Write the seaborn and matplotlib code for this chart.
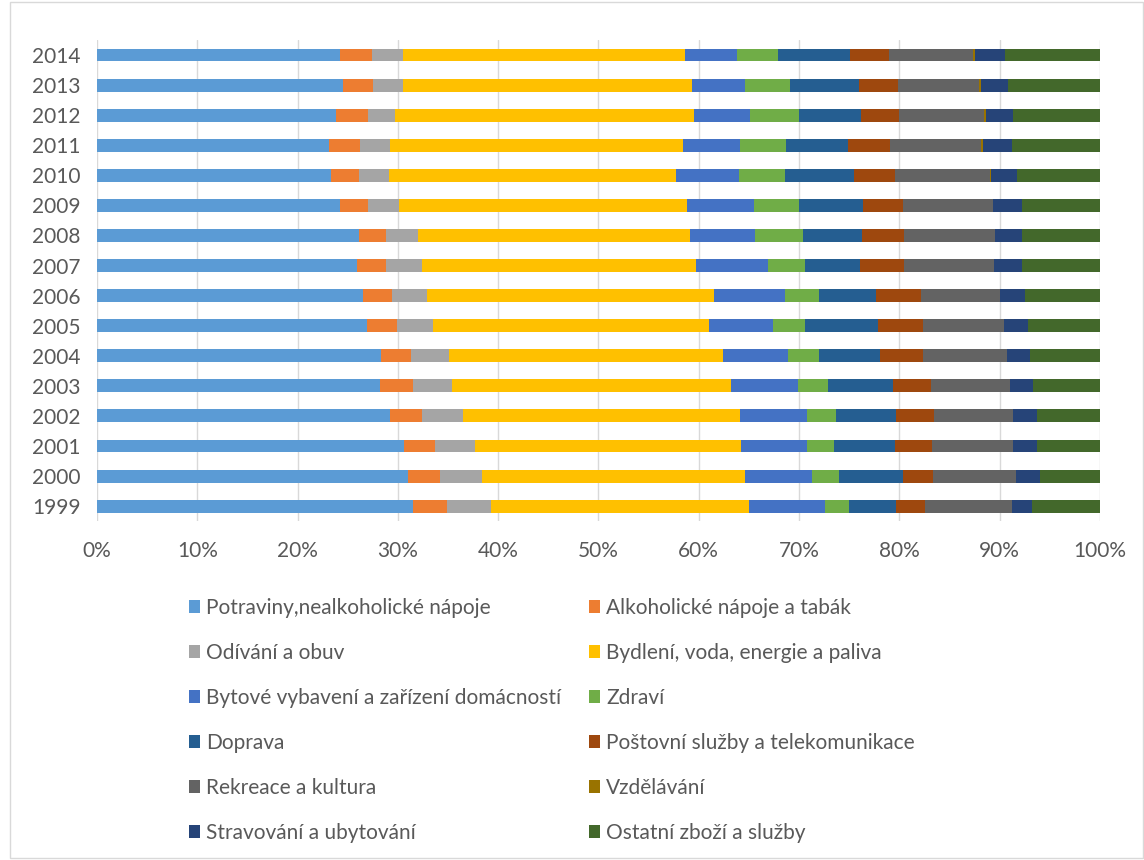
# -*- coding: utf-8 -*-
"""
Struktura výdajů domácností 1999-2014 (100% skládaný pruhový graf)
"""

import numpy as np
import pandas as pd
import matplotlib
matplotlib.use("Agg")
import matplotlib.pyplot as plt
import seaborn as sns
from matplotlib.patches import Rectangle

# -------------------------
# Data (podíly v %)
# -------------------------
years = ['2014', '2013', '2012', '2011', '2010', '2009', '2008', '2007',
         '2006', '2005', '2004', '2003', '2002', '2001', '2000', '1999']

categories = [
    'Potraviny,nealkoholické nápoje',
    'Alkoholické nápoje a tabák',
    'Odívání a obuv',
    'Bydlení, voda, energie a paliva',
    'Bytové vybavení a zařízení domácností',
    'Zdraví',
    'Doprava',
    'Poštovní služby a telekomunikace',
    'Rekreace a kultura',
    'Vzdělávání',
    'Stravování a ubytování',
    'Ostatní zboží a služby',
]

potraviny = [24.2, 24.5, 23.8, 23.1, 23.3, 24.2, 26.1, 25.9, 26.5, 26.9, 28.3, 28.2, 29.2, 30.6, 31.0, 31.5]
alkohol = [3.2, 3.0, 3.2, 3.1, 2.8, 2.8, 2.7, 2.9, 2.9, 3.0, 3.0, 3.3, 3.2, 3.1, 3.2, 3.4]
odivani = [3.1, 3.0, 2.7, 3.0, 3.0, 3.1, 3.2, 3.6, 3.5, 3.6, 3.8, 3.9, 4.1, 4.0, 4.2, 4.4]
bydleni = [28.1, 28.8, 29.8, 29.2, 28.6, 28.7, 27.1, 27.3, 28.6, 27.5, 27.3, 27.8, 27.6, 26.5, 26.2, 25.7]
vybaveni = [5.2, 5.3, 5.6, 5.7, 6.3, 6.7, 6.5, 7.2, 7.1, 6.4, 6.5, 6.7, 6.7, 6.6, 6.7, 7.6]
zdravi = [4.1, 4.5, 4.9, 4.6, 4.6, 4.5, 4.8, 3.7, 3.4, 3.2, 3.1, 3.0, 2.9, 2.7, 2.7, 2.4]
doprava = [7.2, 6.9, 6.2, 6.2, 6.9, 6.4, 5.9, 5.5, 5.7, 7.3, 6.1, 6.5, 6.0, 6.1, 6.4, 4.7]
posta = [3.9, 3.9, 3.8, 4.2, 4.1, 4.0, 4.2, 4.4, 4.5, 4.5, 4.3, 3.8, 3.8, 3.7, 3.0, 2.9]
rekreace = [8.3, 8.0, 8.4, 9.0, 9.4, 8.9, 9.0, 8.9, 7.8, 8.0, 8.3, 7.8, 7.8, 8.0, 8.2, 8.6]
vzdelavani = [0.2, 0.2, 0.2, 0.2, 0.1, 0.0, 0.0, 0.0, 0.0, 0.0, 0.0, 0.0, 0.0, 0.0, 0.0, 0.0]
stravovani = [3.0, 2.7, 2.7, 2.9, 2.6, 2.9, 2.7, 2.8, 2.5, 2.4, 2.3, 2.3, 2.4, 2.4, 2.4, 2.0]
ostatni = [9.5, 9.2, 8.7, 8.8, 8.3, 7.8, 7.8, 7.8, 7.5, 7.2, 7.0, 6.7, 6.3, 6.3, 6.0, 6.8]

colors = ['#5B9BD5', '#ED7D31', '#A5A5A5', '#FFC000', '#4472C4', '#70AD47',
          '#255E91', '#9E480E', '#636363', '#997300', '#264478', '#43682B']

df = pd.DataFrame({
    'rok': years,
    categories[0]: potraviny, categories[1]: alkohol, categories[2]: odivani,
    categories[3]: bydleni, categories[4]: vybaveni, categories[5]: zdravi,
    categories[6]: doprava, categories[7]: posta, categories[8]: rekreace,
    categories[9]: vzdelavani, categories[10]: stravovani, categories[11]: ostatni,
})

# převod na 100 % a kumulativní součty
shares = df[categories].div(df[categories].sum(axis=1), axis=0) * 100
cum = shares.cumsum(axis=1)

# -------------------------
# Graf
# -------------------------
sns.set_style("white")
plt.rcParams['font.family'] = ['Lato', 'DejaVu Sans']
text_col = '#595959'

fig = plt.figure(figsize=(11.44, 8.6), dpi=100)
ax = fig.add_axes([0.0848, 0.394, 0.8767, 0.5595])

# skládání: od nejdelšího kumulativního pruhu po nejkratší
for k in range(len(categories) - 1, -1, -1):
    sns.barplot(x=cum[categories[k]], y=df['rok'], orient='h', color=colors[k],
                width=0.43, label=categories[k], ax=ax, linewidth=0,
                saturation=1)

ax.set_xlim(0, 100)
ax.set_xticks(np.arange(0, 101, 10))
ax.set_xticklabels([f'{v}%' for v in range(0, 101, 10)])
ax.set_xlabel('')
ax.set_ylabel('')
ax.tick_params(axis='both', labelsize=15, colors=text_col, length=0)
ax.tick_params(axis='x', pad=14)
ax.tick_params(axis='y', pad=12)
ax.grid(axis='x', color='#D9D9D9', linewidth=1)
ax.set_axisbelow(True)
for s in ax.spines.values():
    s.set_visible(False)

# legenda po řádcích ve dvou sloupcích
handles, labels = ax.get_legend_handles_labels()
if ax.get_legend() is not None:
    ax.get_legend().remove()
handles, labels = handles[::-1], labels[::-1]
order = [0, 2, 4, 6, 8, 10, 1, 3, 5, 7, 9, 11]
leg = fig.legend([handles[i] for i in order], [labels[i] for i in order],
                 ncol=2, loc='upper left', bbox_to_anchor=(0.165, 0.305),
                 frameon=False, fontsize=15, handlelength=0.55, handleheight=0.55,
                 handletextpad=0.3, columnspacing=1.3, labelspacing=1.2,
                 borderpad=0, borderaxespad=0)
for t in leg.get_texts():
    t.set_color(text_col)

# rámeček grafu
fig.patches.append(Rectangle((10 / 1144, 0.002), 1 - 11 / 1144, 0.996,
                             transform=fig.transFigure, fill=False,
                             edgecolor='#D9D9D9', linewidth=1))

plt.savefig('out.png', dpi=100)
